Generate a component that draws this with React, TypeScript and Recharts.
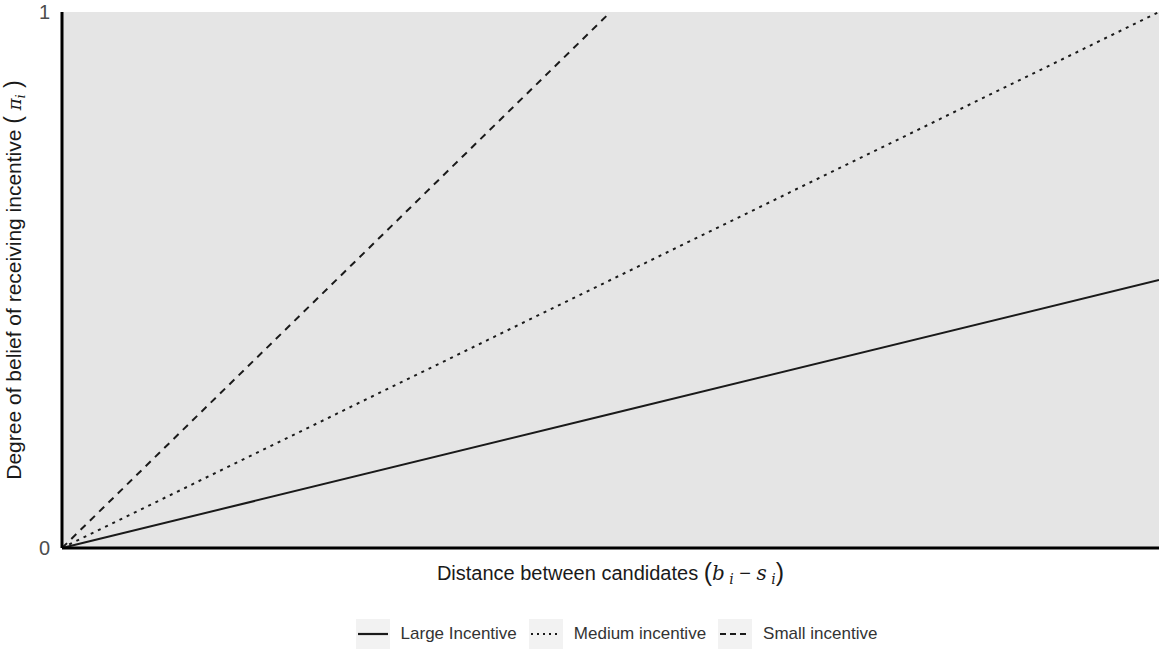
import { LineChart, Line, XAxis, YAxis, CartesianGrid, Legend } from "recharts";

// distance between candidates, scaled 0..1
const distance = [0, 0.5, 1];
// belief of receiving the incentive for each incentive size
const largeIncentive = [0, 0.25, 0.5];
const mediumIncentive = [0, 0.5, 1];
const smallIncentive = [0, 1, null];
const yTicks = [0, 1];

const seriesNames = ["Large Incentive", "Medium incentive", "Small incentive"];
const seriesKeys = ["large", "medium", "small"];
const seriesDash = ["", "3 5", "7 6"];
const legendDash = ["", "2 4", "6 4"];

const data = distance.map((d, i) => ({
  x: d,
  large: largeIncentive[i],
  medium: mediumIncentive[i],
  small: smallIncentive[i],
}));

const FONT = '"Liberation Sans", Arial, Helvetica, sans-serif';
const MATH = '"DejaVu Serif", "Liberation Serif", serif';
const INK = "#1a1a1a";

const XTitle = (props: any) => {
  const { x, y, width } = props.viewBox;
  return (
    <text
      x={x + width / 2}
      y={y + 32}
      textAnchor="middle"
      fontFamily={FONT}
      fontSize={20}
      fill={INK}
    >
      Distance between candidates{" "}
      <tspan fontSize={25} dy={1}>(</tspan>
      <tspan fontFamily={MATH} fontStyle="italic" dy={-1}>b</tspan>
      <tspan fontFamily={MATH} fontStyle="italic" fontSize={14} dy={4}>{" i"}</tspan>
      <tspan dy={-4}>{" − "}</tspan>
      <tspan fontFamily={MATH} fontStyle="italic">s</tspan>
      <tspan fontFamily={MATH} fontStyle="italic" fontSize={14} dy={4}>{" i"}</tspan>
      <tspan fontSize={25} dy={-3}>)</tspan>
    </text>
  );
};

const YTitle = (props: any) => {
  const { x, y, height } = props.viewBox;
  const cx = x + 21;
  const cy = y + height / 2;
  return (
    <text
      x={cx}
      y={cy}
      transform={`rotate(-90 ${cx} ${cy})`}
      textAnchor="middle"
      fontFamily={FONT}
      fontSize={21}
      fill={INK}
    >
      Degree of belief of receiving incentive{" "}
      <tspan fontSize={23}>(</tspan>
      <tspan fontFamily={MATH} fontStyle="italic" fontSize={18}>{" π"}</tspan>
      <tspan fontFamily={MATH} fontStyle="italic" fontSize={13} dy={4}>i</tspan>
      <tspan fontSize={23} dy={-4}>{" )"}</tspan>
    </text>
  );
};

const LegendRow = () => (
  <div
    style={{
      display: "flex",
      justifyContent: "center",
      alignItems: "center",
      fontFamily: FONT,
      fontSize: 17,
      color: "#333333",
      paddingLeft: 74,
    }}
  >
    {seriesNames.map((name, i) => (
      <div key={name} style={{ display: "flex", alignItems: "center", marginRight: i < 2 ? 12 : 0 }}>
        <svg width={34} height={30} style={{ background: "#f2f2f2", display: "block" }}>
          <line x1={2} x2={32} y1={15} y2={15} stroke={INK} strokeWidth={2.2} strokeDasharray={legendDash[i]} />
        </svg>
        <span style={{ marginLeft: 11 }}>{name}</span>
      </div>
    ))}
  </div>
);

export default function App() {
  return (
    <div style={{ position: "absolute", left: 0, top: 0, width: 1159, height: 649, background: "#fff" }}>
      <LineChart width={1159} height={649} data={data} margin={{ top: 12, right: 0, bottom: 0, left: 0 }}>
        <CartesianGrid horizontal={false} vertical={false} fill="#e5e5e5" stroke="none" />
        <XAxis
          dataKey="x"
          type="number"
          domain={[0, 1]}
          tick={false}
          tickLine={false}
          height={101}
          axisLine={{ stroke: "#000", strokeWidth: 3 }}
          label={<XTitle />}
        />
        <YAxis
          type="number"
          domain={[0, 1]}
          ticks={yTicks}
          width={62}
          tickLine={false}
          tickMargin={6}
          axisLine={{ stroke: "#000", strokeWidth: 3 }}
          tick={{ fill: "#4d4d4d", fontSize: 20, fontFamily: FONT }}
          label={<YTitle />}
        />
        {seriesKeys.map((k, i) => (
          <Line
            key={k}
            type="linear"
            dataKey={k}
            name={seriesNames[i]}
            stroke={INK}
            strokeWidth={2}
            strokeDasharray={seriesDash[i]}
            dot={false}
            activeDot={false}
            isAnimationActive={false}
          />
        ))}
        <Legend
          verticalAlign="middle"
          content={<LegendRow />}
          wrapperStyle={{ top: 619, left: 0, width: 1159 }}
        />
      </LineChart>
    </div>
  );
}
